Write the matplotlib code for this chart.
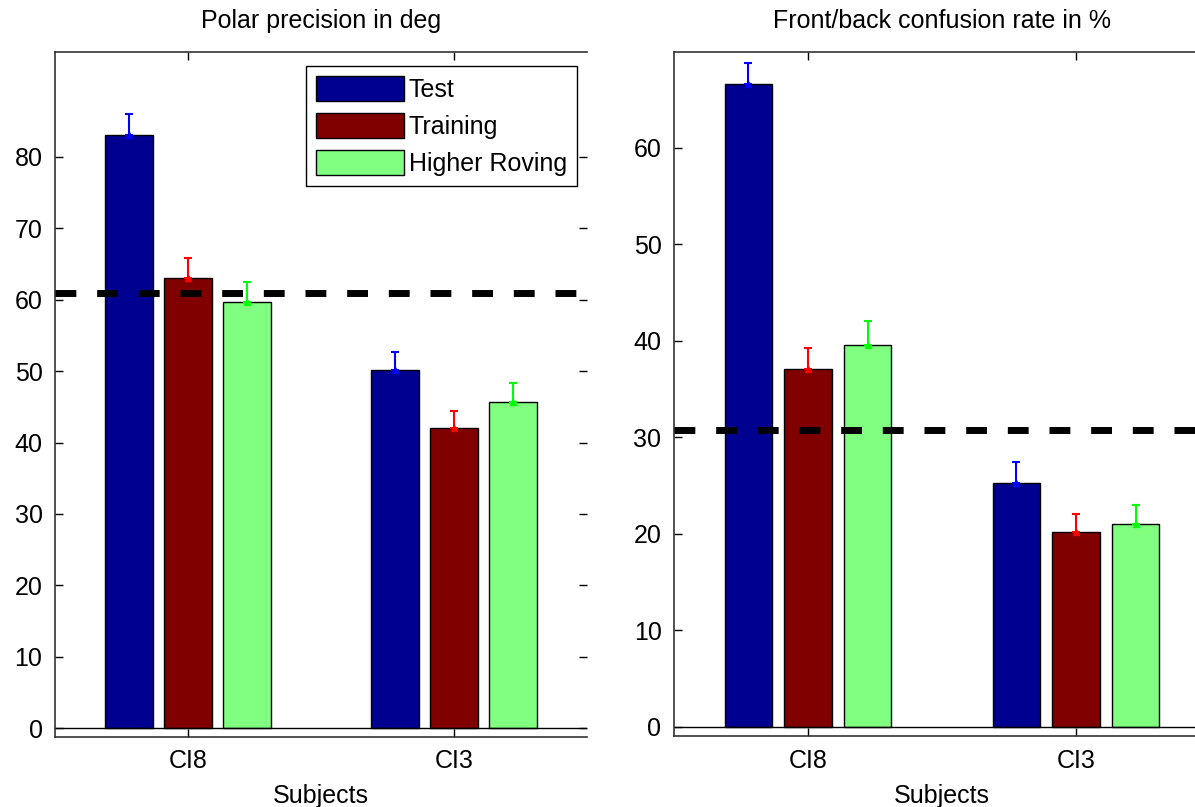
import matplotlib
matplotlib.use("Agg")
import matplotlib.pyplot as plt
import numpy as np

subjects = ['CI8', 'CI3']
conditions = ['Test', 'Training', 'Higher Roving']
bar_colors = ['#000090', '#800000', '#80ff80']
err_colors = ['#0000ff', '#ff0000', '#00ff00']

# polar precision (deg), rows = condition, cols = subject
polar_mean = [[83.1, 50.2], [63.0, 42.1], [59.7, 45.7]]
polar_err = [[2.9, 2.5], [2.9, 2.3], [2.8, 2.6]]
polar_ref = 60.9

# front/back confusion rate (%)
fb_mean = [[66.6, 25.3], [37.1, 20.2], [39.6, 21.0]]
fb_err = [[2.2, 2.1], [2.1, 1.8], [2.4, 2.0]]
fb_ref = 30.7

plt.rcParams['font.family'] = ['Liberation Sans', 'DejaVu Sans']
plt.rcParams['font.size'] = 18

fig = plt.figure(figsize=(11.95, 8.07), dpi=100)
ax1 = fig.add_axes([55 / 1195, 70.3 / 807, 532 / 1195, 684.7 / 807])
ax2 = fig.add_axes([674 / 1195, 71 / 807, 536 / 1195, 684 / 807])


def draw(ax, means, errs, ref, ylim, yticks, title, legend=False):
    x = np.arange(1, len(subjects) + 1)
    slot = 2 / 9
    for i, cond in enumerate(conditions):
        xs = x + (i - 1) * slot
        ax.bar(xs, means[i], width=0.8 * slot, color=bar_colors[i],
               edgecolor='black', linewidth=1.0, label=cond, zorder=2)
        ax.errorbar(xs, means[i], yerr=[np.zeros(len(xs)), errs[i]],
                    fmt='^', color=err_colors[i], markersize=4,
                    elinewidth=1.5, capsize=3, capthick=1.5, zorder=3)
    ax.axhline(0, color='black', linewidth=1.0, zorder=2.5)
    ax.axhline(ref, color='black', linewidth=5, dashes=(3, 3), zorder=4)
    ax.set_xlim(0.5, 2.5)
    ax.set_ylim(*ylim)
    ax.set_xticks(x)
    ax.set_xticklabels(subjects)
    ax.set_yticks(yticks)
    ax.set_xlabel('Subjects', labelpad=8)
    ax.set_title(title, fontsize=18, pad=17)
    ax.tick_params(direction='in', length=6, width=1, top=True, right=True,
                   colors='black', pad=9)
    for s in ax.spines.values():
        s.set_linewidth(1.2)
        s.set_color('#333333')
    if legend:
        ax.legend(loc='upper right', bbox_to_anchor=(0.981, 0.9795),
                  borderaxespad=0, fancybox=False, framealpha=1,
                  edgecolor='black', handlelength=3.5, handleheight=1.15,
                  labelspacing=0.45, handletextpad=0.2, borderpad=0.4,
                  fontsize=18)


draw(ax1, polar_mean, polar_err, polar_ref, (-1.2, 94.7),
     np.arange(0, 81, 10), 'Polar precision in deg', legend=True)
draw(ax2, fb_mean, fb_err, fb_ref, (-0.95, 69.9),
     np.arange(0, 61, 10), 'Front/back confusion rate in %')
ax1.spines['right'].set_visible(False)

fig.savefig('out.png', dpi=100)
